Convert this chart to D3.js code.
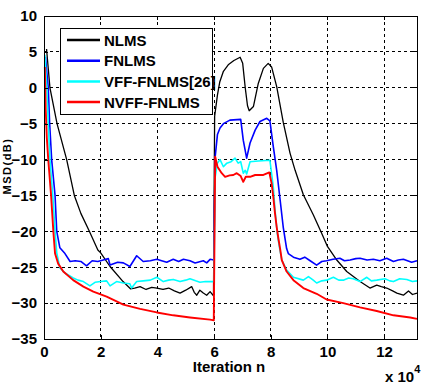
<!DOCTYPE html>
<html>
<head>
<meta charset="utf-8">
<script src="https://cdn.jsdelivr.net/npm/d3@7"></script>
<style>
  body { margin: 0; background: #fff; }
  svg text { font-family: "Liberation Sans", Arial, sans-serif; font-weight: bold; }
</style>
</head>
<body>
<div id="chart"></div>
<script>
// iterations are in units of 10^4, MSD in dB
const nlmsX = [0.09,0.21,0.46,0.8,1.07,1.3,1.6,1.9,2.0,2.33,2.79,3.05,3.2,3.39,3.6,3.8,3.98,4.2,4.4,4.6,4.8,5.0,5.21,5.3,5.39,5.5,5.62,5.74,5.86,5.98,6.02,6.12,6.2,6.33,6.5,6.7,6.92,7.01,7.1,7.18,7.24,7.39,7.56,7.74,7.91,8.03,8.21,8.44,8.68,8.86,9.15,9.5,9.8,10.0,10.33,10.68,11.15,11.5,11.74,11.9,12.09,12.3,12.45,12.68,12.86,13.0,13.16];
const nlmsY = [5.4,0,-5,-10,-15,-17.5,-20,-22.6,-23,-24.9,-27,-28,-27.9,-27.7,-28.1,-27.8,-27.9,-28.1,-27.9,-28.3,-28.6,-28.2,-27.7,-28.5,-28.9,-28.2,-28.6,-28.9,-28.4,-29,-4,-1,0.8,2.3,3.2,3.8,4.25,3.4,0,-2.5,-3.2,-2.6,0.6,2.7,3.4,2.9,0.15,-4.8,-9.1,-11.5,-14.9,-17.7,-20.3,-22.1,-24,-25.6,-27,-27.9,-27.5,-27.7,-27.9,-28.3,-28.6,-28.9,-28.3,-28.8,-28.6];

const fnlmsX = [0.05,0.15,0.2,0.27,0.39,0.45,0.56,0.74,0.92,1.1,1.3,1.5,1.7,1.9,2.09,2.27,2.33,2.6,2.8,3.03,3.27,3.5,3.75,3.98,4.15,4.33,4.56,4.75,4.92,5.15,5.33,5.62,5.74,5.86,5.99,6.04,6.12,6.21,6.33,6.56,6.94,7.03,7.15,7.27,7.45,7.62,7.86,7.97,8.09,8.21,8.33,8.44,8.56,8.62,8.8,9.03,9.2,9.39,9.62,9.8,9.97,10.2,10.44,10.6,10.8,11.0,11.15,11.4,11.62,11.85,12.09,12.33,12.5,12.68,12.97,13.16];
const fnlmsY = [4.3,0,-5,-10,-15,-20,-22.3,-23.1,-24.2,-24.1,-24.2,-24.8,-24.1,-24.2,-24,-23.8,-24.7,-24.3,-24.4,-24.9,-23.4,-24.2,-24.1,-23.9,-24.1,-24.3,-23.9,-24.2,-23.9,-24.1,-24.4,-24.1,-24.4,-23.9,-24,-9.6,-6.5,-5.6,-5,-4.5,-4.4,-7.3,-9.8,-7.7,-5.9,-4.7,-4.25,-4.6,-8.2,-11.5,-15.6,-19.4,-22.4,-23.1,-23.6,-23.9,-23.6,-24.1,-24.7,-24.2,-24.1,-23.9,-23.75,-24.1,-24,-23.8,-23.75,-24,-23.9,-24.1,-23.75,-24.2,-24,-23.9,-24.3,-24.1];

const vffX = [0.03,0.1,0.15,0.21,0.31,0.39,0.45,0.56,0.74,1.03,1.2,1.39,1.62,1.8,2.0,2.21,2.33,2.56,2.8,3.03,3.09,3.27,3.5,3.75,3.98,4.21,4.4,4.56,4.8,5.0,5.15,5.35,5.5,5.7,5.99,6.04,6.12,6.21,6.33,6.45,6.6,6.74,6.85,6.94,7.03,7.1,7.15,7.27,7.56,7.97,8.09,8.15,8.23,8.3,8.39,8.56,8.8,9.15,9.33,9.5,9.62,9.8,9.97,10.21,10.4,10.56,10.75,10.91,11.15,11.39,11.55,11.74,12.03,12.2,12.33,12.55,12.8,13.0,13.16];
const vffY = [4.6,0,-5,-10,-15,-20,-23,-25.1,-25.8,-26.5,-26.8,-27,-27.6,-27.1,-27,-26.9,-27.6,-27,-27.2,-27.3,-27.9,-27,-26.9,-26.8,-26.4,-27,-26.8,-26.7,-27,-26.8,-26.6,-26.9,-27.1,-27,-27,-12.4,-10.5,-10,-11,-10.5,-10.3,-9.8,-10.5,-10.3,-11.9,-11.5,-12,-10.3,-10.2,-10.1,-13.8,-17,-20.3,-22.1,-24,-25.4,-26.4,-26.8,-26.3,-26.8,-27.2,-26.9,-26.8,-26.4,-26.8,-26.8,-26.5,-26.6,-27,-26.4,-26.9,-26.8,-26.6,-26.9,-27,-26.6,-26.7,-27,-26.9];

const nvffX = [0.03,0.06,0.1,0.15,0.25,0.33,0.39,0.5,0.68,1.03,1.39,1.74,2.21,2.8,3.39,3.98,4.56,5.15,5.86,5.99,6.04,6.12,6.27,6.39,6.55,6.68,6.8,6.94,7.03,7.12,7.27,7.45,7.74,7.95,8.03,8.09,8.15,8.21,8.27,8.33,8.39,8.56,8.8,9.15,9.62,9.97,10.56,11.15,11.74,12.33,12.92,13.16];
const nvffY = [2.9,-3,-7,-10,-15,-20,-23.1,-24.5,-25.6,-26.8,-27.7,-28.4,-29.1,-30.2,-30.8,-31.3,-31.7,-32,-32.3,-32.4,-9.6,-11,-11.9,-12.4,-12.2,-12.15,-11.9,-12.3,-13.1,-12.4,-12.4,-12.15,-12.15,-11.8,-13.3,-15.2,-17.5,-19.4,-21,-22.4,-24,-25.6,-26.8,-27.9,-28.7,-29.5,-30,-30.6,-31.1,-31.7,-32,-32.2];

const seriesNames = ['NLMS', 'FNLMS', 'VFF-FNLMS[26]', 'NVFF-FNLMS'];
const seriesColors = ['#000000', '#0000ff', '#00ffff', '#ff0000'];
const seriesWidths = [1.3, 1.6, 1.6, 1.9];
const xTicks = [0, 2, 4, 6, 8, 10, 12];
const yTicks = [-35, -30, -25, -20, -15, -10, -5, 0, 5, 10];

const dims = {width: 424, height: 389, left: 44, right: 417, top: 16, bottom: 339};

const svg = d3.select('#chart').append('svg')
  .attr('width', dims.width)
  .attr('height', dims.height);

const x = d3.scaleLinear().domain([0, 13.16]).range([dims.left, dims.right]);
const y = d3.scaleLinear().domain([-35, 10]).range([dims.bottom, dims.top]);

// grid
const grid = svg.append('g').attr('shape-rendering', 'crispEdges');
grid.append('g').selectAll('line')
  .data(xTicks.filter(d => d > 0))
  .join('line')
  .attr('x1', d => x(d)).attr('x2', d => x(d))
  .attr('y1', dims.top).attr('y2', dims.bottom)
  .attr('stroke', '#000').attr('stroke-width', 1)
  .attr('stroke-dasharray', '3,3');
grid.append('g').selectAll('line')
  .data(yTicks.filter(d => d > -35 && d < 10))
  .join('line')
  .attr('x1', dims.left).attr('x2', dims.right)
  .attr('y1', d => y(d)).attr('y2', d => y(d))
  .attr('stroke', '#000').attr('stroke-width', 1)
  .attr('stroke-dasharray', '3,3');

// curves
const allX = [nlmsX, fnlmsX, vffX, nvffX];
const allY = [nlmsY, fnlmsY, vffY, nvffY];
const line = d3.line().x(d => x(d[0])).y(d => y(d[1]));

const plot = svg.append('g');
allX.forEach((xs, k) => {
  const pts = xs.map((v, i) => [v, allY[k][i]]);
  plot.append('path')
    .attr('d', line(pts))
    .attr('fill', 'none')
    .attr('stroke', seriesColors[k])
    .attr('stroke-width', seriesWidths[k])
    .attr('stroke-linejoin', 'round');
});

// axes box
svg.append('rect')
  .attr('x', dims.left).attr('y', dims.top)
  .attr('width', dims.right - dims.left).attr('height', dims.bottom - dims.top)
  .attr('fill', 'none').attr('stroke', '#000').attr('stroke-width', 1)
  .attr('shape-rendering', 'crispEdges');

const xAxis = svg.append('g')
  .attr('transform', `translate(0,${dims.bottom})`)
  .attr('shape-rendering', 'crispEdges')
  .call(d3.axisBottom(x).tickValues(xTicks).tickSizeInner(-4).tickSizeOuter(0).tickPadding(7));
xAxis.select('.domain').remove();
xAxis.selectAll('text').style('font-size', '15px').attr('fill', '#000');

const yAxis = svg.append('g')
  .attr('transform', `translate(${dims.left},0)`)
  .attr('shape-rendering', 'crispEdges')
  .call(d3.axisLeft(y).tickValues(yTicks).tickSizeInner(-4).tickSizeOuter(0).tickPadding(7));
yAxis.select('.domain').remove();
yAxis.selectAll('text').style('font-size', '15px').attr('fill', '#000');

// mirrored ticks on top/right
svg.append('g').attr('shape-rendering', 'crispEdges').selectAll('line')
  .data(xTicks)
  .join('line')
  .attr('x1', d => x(d)).attr('x2', d => x(d))
  .attr('y1', dims.top).attr('y2', dims.top + 4)
  .attr('stroke', '#000');
svg.append('g').attr('shape-rendering', 'crispEdges').selectAll('line')
  .data(yTicks)
  .join('line')
  .attr('x1', dims.right - 4).attr('x2', dims.right)
  .attr('y1', d => y(d)).attr('y2', d => y(d))
  .attr('stroke', '#000');

// labels
svg.append('text')
  .attr('x', 229).attr('y', 372)
  .attr('text-anchor', 'middle')
  .style('font-size', '15px')
  .text('Iteration n');

const expo = svg.append('text')
  .attr('x', 385).attr('y', 382)
  .style('font-size', '15px');
expo.append('tspan').text('x 10');
expo.append('tspan').attr('dy', -9).style('font-size', '11px').text('4');

svg.append('text')
  .attr('transform', 'translate(11,166) rotate(-90)')
  .attr('text-anchor', 'middle')
  .style('font-size', '11px')
  .style('letter-spacing', '1.5px')
  .text('MSD(dB)');

// legend
const legend = svg.append('g');
legend.append('rect')
  .attr('x', 60).attr('y', 28)
  .attr('width', 152).attr('height', 86)
  .attr('fill', '#fff').attr('stroke', '#000').attr('stroke-width', 1)
  .attr('shape-rendering', 'crispEdges');
seriesNames.forEach((name, i) => {
  const ly = 40 + i * 20.7;
  legend.append('line')
    .attr('x1', 67).attr('x2', 100)
    .attr('y1', ly).attr('y2', ly)
    .attr('stroke', seriesColors[i]).attr('stroke-width', 2.5);
  legend.append('text')
    .attr('x', 104).attr('y', ly + 5.5)
    .style('font-size', '15px')
    .text(name);
});
</script>
</body>
</html>
